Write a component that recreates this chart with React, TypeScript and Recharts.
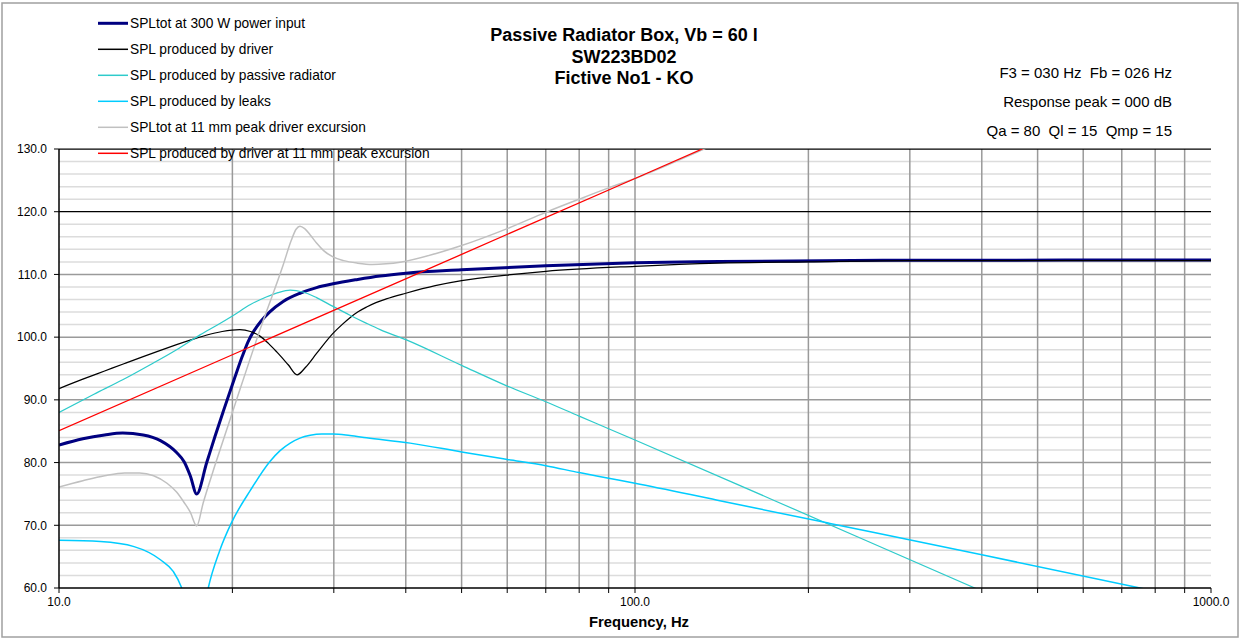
import React from 'react';
import { LineChart, Line, XAxis, YAxis, ReferenceLine } from 'recharts';

// ---- data (frequency in Hz, SPL in dB) ----
const totF = [10, 11, 12, 12.9, 14, 15, 16, 16.5, 16.9, 17.34, 18.05, 18.66, 19.29, 20.2, 20.8, 21.3, 21.8, 22.4, 23.2, 24.5, 26.2, 28, 29.9, 33, 36.1, 40, 50, 70, 100, 140, 288, 1000];
const totV = [82.8, 83.8, 84.4, 84.7, 84.4, 83.5, 81.6, 80.1, 77.9, 75.0, 80.0, 84.2, 88.2, 93.6, 96.9, 99.3, 101.0, 102.5, 104.0, 105.7, 107.0, 107.9, 108.5, 109.2, 109.75, 110.2, 110.75, 111.4, 111.85, 112.05, 112.25, 112.3];

const drvF = [10, 11, 12, 13, 14, 15, 16, 17, 18, 19.2, 20.6, 21.5, 22.3, 23.1, 23.9, 25.0, 25.9, 26.8, 28.0, 29.9, 31, 32, 33, 34.2, 35.5, 37, 40, 45, 50, 60, 70, 100, 140, 200, 300, 1000];
const drvV = [91.8, 93.3, 94.6, 95.8, 96.9, 97.9, 98.8, 99.6, 100.3, 100.9, 101.2, 100.9, 100.2, 99.0, 97.6, 95.6, 94.0, 95.2, 97.4, 100.6, 102.0, 103.1, 104.0, 104.8, 105.5, 106.1, 107.0, 108.2, 109.0, 109.9, 110.5, 111.3, 111.8, 112.0, 112.2, 112.2];

const prF = [10, 11.5, 12.9, 14.4, 16, 17.6, 18.8, 20.1, 21.5, 22.9, 24, 25.2, 26.5, 28, 29.9, 32, 34.2, 36.1, 40, 50, 60, 70, 80, 90, 100, 174, 389, 600];
const prV = [88.0, 90.9, 93.2, 95.6, 98.0, 100.4, 101.9, 103.5, 105.2, 106.4, 107.1, 107.5, 107.2, 106.3, 104.9, 103.5, 102.2, 101.2, 99.6, 95.5, 92.2, 89.7, 87.4, 85.4, 83.6, 74.0, 60.0, 52.5];

const leakF = [10, 11.8, 13.5, 15, 15.8, 16.3, 16.8, 17.3, 17.8, 18.16, 19.0, 19.9, 21.5, 23.2, 24.2, 25.2, 26.2, 27.3, 28.6, 29.9, 32, 34.2, 40.7, 50, 60, 70, 80, 90, 100, 139, 218, 400, 753, 1000];
const leakV = [67.6, 67.4, 66.6, 64.5, 62.6, 60.2, 56, 45, 56, 60.0, 65.9, 70.3, 75.6, 80.1, 81.9, 83.1, 83.9, 84.35, 84.55, 84.55, 84.3, 83.95, 83.1, 81.7, 80.5, 79.5, 78.4, 77.5, 76.7, 74.0, 70.3, 65.3, 60.0, 57.6];

const excF = [10, 11, 12, 13, 13.8, 14.6, 15.4, 16.0, 16.5, 16.9, 17.34, 17.8, 18.66, 19.9, 20.3, 22.3, 24.5, 25.3, 25.8, 26.2, 26.7, 27.3, 28.0, 28.8, 29.9, 31.2, 33, 35, 37, 39.1, 45, 50, 60, 70, 80, 90, 100, 131.8, 160];
const excV = [76.1, 77.1, 77.9, 78.35, 78.35, 77.9, 76.7, 75.3, 73.6, 72.1, 69.9, 73.6, 79.6, 87.4, 89.8, 101.0, 111.5, 115.4, 117.2, 117.7, 117.3, 116.3, 115.0, 113.8, 112.8, 112.2, 111.8, 111.6, 111.7, 111.95, 113.3, 114.6, 117.3, 119.9, 122.0, 123.8, 125.3, 130.0, 133.4];

const redF = [10, 20, 50, 100, 150];
const redV = [85.1, 97.2, 113.2, 125.3, 132.4];

// ---- axes / grid values ----
const xTicks = [10, 20, 30, 40, 50, 60, 70, 80, 90, 100, 200, 300, 400, 500, 600, 700, 800, 900, 1000];
const xLabelled = [10, 100, 1000];
const xGrid = [20, 30, 40, 50, 60, 70, 80, 90, 100, 200, 300, 400, 500, 600, 700, 800, 900];
const yTicks = [60, 70, 80, 90, 100, 110, 120, 130];
const yMajorGray = [70, 80, 90, 100, 110];
const yMajorBlack = [120, 130];
const yMinor = [62, 64, 66, 68, 72, 74, 76, 78, 82, 84, 86, 88, 92, 94, 96, 98, 102, 104, 106, 108, 112, 114, 116, 118, 122, 124, 126, 128];

const titleLines = ['Passive Radiator Box, Vb = 60 l', 'SW223BD02', 'Fictive No1 - KO'];
const infoLines = ['F3 = 030 Hz  Fb = 026 Hz', 'Response peak = 000 dB', 'Qa = 80  Ql = 15  Qmp = 15'];

const series = [
  { name: 'SPLtot at 300 W power input', f: totF, v: totV, color: '#000080', width: 3 },
  { name: 'SPL produced by driver', f: drvF, v: drvV, color: '#000000', width: 1.25 },
  { name: 'SPL produced by passive radiator', f: prF, v: prV, color: '#2ECBCB', width: 1.25 },
  { name: 'SPL produced by leaks', f: leakF, v: leakV, color: '#00CCFF', width: 1.5 },
  { name: 'SPLtot at 11 mm peak driver excursion', f: excF, v: excV, color: '#C0C0C0', width: 1.5 },
  { name: 'SPL produced by driver at 11 mm peak excursion', f: redF, v: redV, color: '#FF0000', width: 1.25 },
];

const FONT = '"Liberation Sans", Arial, sans-serif';

const toPts = (f: number[], v: number[]) => f.map((x, i) => ({ f: x, v: v[i] }));

export default function App() {
  return (
    <div style={{ position: 'absolute', left: 0, top: 0, width: 1247, height: 640, background: '#fff', fontFamily: FONT }}>
      <LineChart width={1247} height={640} margin={{ top: 149, right: 36, bottom: 0, left: 0 }}>
        <XAxis
          dataKey="f"
          type="number"
          scale="log"
          domain={[10, 1000]}
          allowDataOverflow
          ticks={xTicks}
          interval={0}
          tickFormatter={(v: number) => (xLabelled.includes(v) ? v.toFixed(1) : '')}
          height={52}
          tickSize={5}
          tickMargin={4}
          axisLine={{ stroke: '#000', strokeWidth: 1.5 }}
          tickLine={{ stroke: '#000' }}
          tick={{ fontSize: 12, fill: '#000', fontFamily: FONT }}
        />
        <YAxis
          type="number"
          domain={[60, 130]}
          allowDataOverflow
          ticks={yTicks}
          interval={0}
          tickFormatter={(v: number) => v.toFixed(1)}
          width={59}
          tickSize={5}
          tickMargin={7}
          axisLine={{ stroke: '#000', strokeWidth: 1.5 }}
          tickLine={{ stroke: '#000' }}
          tick={{ fontSize: 12, fill: '#000', fontFamily: FONT }}
        />
        {yMinor.map((y) => (
          <ReferenceLine key={'ym' + y} y={y} stroke="#dcdcdc" strokeWidth={1.5} />
        ))}
        {xGrid.map((x) => (
          <ReferenceLine key={'xg' + x} x={x} stroke="#9a9a9a" strokeWidth={1.5} />
        ))}
        {yMajorGray.map((y) => (
          <ReferenceLine key={'yg' + y} y={y} stroke="#9a9a9a" strokeWidth={1.5} />
        ))}
        {yMajorBlack.map((y) => (
          <ReferenceLine key={'yb' + y} y={y} stroke="#000" strokeWidth={1.25} />
        ))}
        {series.map((s) => (
          <Line
            key={s.name}
            data={toPts(s.f, s.v)}
            dataKey="v"
            name={s.name}
            type={s.f === redF ? 'linear' : 'monotone'}
            stroke={s.color}
            strokeWidth={s.width}
            dot={false}
            activeDot={false}
            isAnimationActive={false}
          />
        ))}
      </LineChart>
      <svg
        width={1247}
        height={640}
        style={{ position: 'absolute', left: 0, top: 0, pointerEvents: 'none' }}
      >
        <rect x={2} y={3} width={1236} height={634} fill="none" stroke="#a0a0a0" strokeWidth={1.5} />
        {titleLines.map((t, i) => (
          <text key={t} x={624} y={35 + i * 21.6} textAnchor="middle" dominantBaseline="central"
            fontFamily={FONT} fontSize={18} fontWeight="bold" fill="#000">{t}</text>
        ))}
        {infoLines.map((t, i) => (
          <text key={t} x={1172} y={72.3 + i * 29.2} textAnchor="end" dominantBaseline="central"
            fontFamily={FONT} fontSize={15} fill="#000" style={{ whiteSpace: 'pre' }}>{t}</text>
        ))}
        {series.map((s, i) => {
          const y = 23.3 + i * 26;
          return (
            <g key={'lg' + i}>
              <line x1={98} x2={128} y1={y} y2={y} stroke={s.color} strokeWidth={s.width === 3 ? 3 : 1.5} />
              <text x={130} y={y} dominantBaseline="central" fontFamily={FONT} fontSize={13.75} fill="#000">{s.name}</text>
            </g>
          );
        })}
        <text x={639} y={621.5} textAnchor="middle" dominantBaseline="central" fontFamily={FONT}
          fontSize={14.8} fontWeight="bold" fill="#000">Frequency, Hz</text>
      </svg>
    </div>
  );
}
